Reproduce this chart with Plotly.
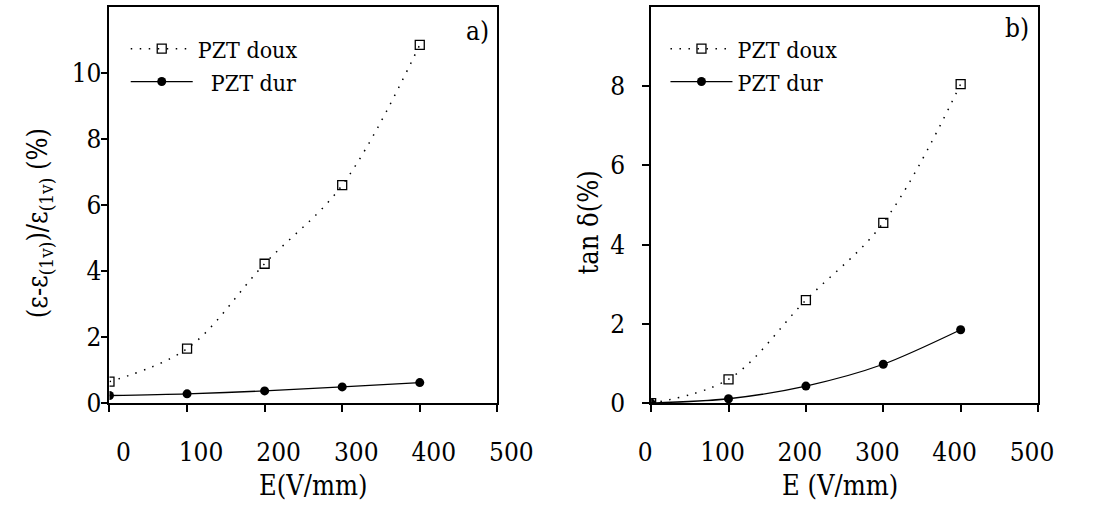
import plotly.graph_objects as go

W, H = 1096, 523

# ---- data ----
E_a = [0, 100, 200, 300, 400]
doux_a = [0.65, 1.65, 4.22, 6.6, 10.85]
dur_a = [0.23, 0.28, 0.37, 0.49, 0.62]

E_b = [0, 100, 200, 300, 400]
doux_b = [0.0, 0.6, 2.6, 4.55, 8.05]
dur_b = [0.0, 0.11, 0.43, 0.98, 1.85]

x_ticks = [0, 100, 200, 300, 400, 500]
ya_ticks = [0, 2, 4, 6, 8, 10]
yb_ticks = [0, 2, 4, 6, 8]

FONT = "DejaVu Serif Condensed, DejaVu Serif"
BLACK = "black"

def px_x(p):
    return p / W

def px_y(p):
    return 1 - p / H

fig = go.Figure()

dot_line = dict(color=BLACK, width=1.5, dash="1.5px,7.5px", shape="spline", smoothing=1.0)
solid_line = dict(color=BLACK, width=1.3, shape="spline", smoothing=0.8)
sq = dict(symbol="square-open", size=9, color=BLACK, line=dict(width=1.3, color=BLACK))
ci = dict(symbol="circle", size=9, color=BLACK)

fig.add_trace(go.Scatter(x=E_a, y=doux_a, mode="lines+markers", name="PZT doux",
                         line=dot_line, marker=sq, xaxis="x", yaxis="y", legend="legend"))
fig.add_trace(go.Scatter(x=E_a, y=dur_a, mode="lines+markers", name="\u00a0\u00a0PZT dur",
                         line=solid_line, marker=ci, xaxis="x", yaxis="y", legend="legend"))
fig.add_trace(go.Scatter(x=E_b, y=doux_b, mode="lines+markers", name="PZT doux",
                         line=dot_line, marker=sq, xaxis="x2", yaxis="y2", legend="legend2"))
fig.add_trace(go.Scatter(x=E_b, y=dur_b, mode="lines+markers", name="PZT dur",
                         line=solid_line, marker=ci, xaxis="x2", yaxis="y2", legend="legend2"))

ydom = [(H - 415) / H, (H - 7) / H]
common_axis = dict(showline=True, linecolor=BLACK, linewidth=1.6, mirror=True,
                   showgrid=False, zeroline=False, ticks="outside", ticklen=7,
                   tickwidth=1.5, tickcolor=BLACK,
                   tickfont=dict(family=FONT, size=26, color=BLACK))

fig.update_layout(
    width=W, height=H,
    margin=dict(l=0, r=0, t=0, b=0),
    paper_bgcolor="white", plot_bgcolor="white",
    font=dict(family=FONT, color=BLACK),
    showlegend=True,
    xaxis=dict(domain=[101 / W, 507 / W], range=[0, 500], tickvals=x_ticks,
               ticklabelshift=14, ticklabelstandoff=18, anchor="y", **common_axis),
    yaxis=dict(domain=ydom, range=[0, 12], tickvals=ya_ticks,
               ticklabelstandoff=-6, anchor="x", **common_axis),
    xaxis2=dict(domain=[668 / W, 1073 / W], range=[0, 500], tickvals=x_ticks,
                ticklabelshift=-6, ticklabelstandoff=18, anchor="y2", **common_axis),
    yaxis2=dict(domain=ydom, range=[0, 10], tickvals=yb_ticks,
                ticklabelstandoff=12, anchor="x2", **common_axis),
    legend=dict(x=px_x(118), y=px_y(28), xanchor="left", yanchor="top",
                bgcolor="rgba(0,0,0,0)", borderwidth=0, itemwidth=62,
                tracegroupgap=0,
                font=dict(family=FONT, size=23, color=BLACK)),
    legend2=dict(x=px_x(683), y=px_y(28), xanchor="left", yanchor="top",
                 bgcolor="rgba(0,0,0,0)", borderwidth=0, itemwidth=62,
                 tracegroupgap=0,
                 font=dict(family=FONT, size=23, color=BLACK)),
)

ann_font = dict(family=FONT, size=27, color=BLACK)
fig.add_annotation(text="E(V/mm)", x=px_x(315), y=px_y(500), xref="paper", yref="paper",
                   showarrow=False, xanchor="center", yanchor="middle", font=ann_font)
fig.add_annotation(text="E (V/mm)", x=px_x(866), y=px_y(500), xref="paper", yref="paper",
                   showarrow=False, xanchor="center", yanchor="middle", font=ann_font)
fig.add_annotation(text="(\u03b5-\u03b5<sub>(1v)</sub>)/\u03b5<sub>(1v)</sub> (%)",
                   x=px_x(28), y=px_y(230), xref="paper", yref="paper", textangle=-90,
                   showarrow=False, xanchor="center", yanchor="middle", font=ann_font)
fig.add_annotation(text="tan \u03b4(%)", x=px_x(602), y=px_y(229), xref="paper", yref="paper",
                   textangle=-90, showarrow=False, xanchor="center", yanchor="middle",
                   font=ann_font)
fig.add_annotation(text="a)", x=px_x(486), y=px_y(32), xref="paper", yref="paper",
                   showarrow=False, xanchor="center", yanchor="middle",
                   font=dict(family=FONT, size=26, color=BLACK))
fig.add_annotation(text="b)", x=px_x(1051), y=px_y(29), xref="paper", yref="paper",
                   showarrow=False, xanchor="center", yanchor="middle",
                   font=dict(family=FONT, size=26, color=BLACK))

fig.write_html("out.html")
